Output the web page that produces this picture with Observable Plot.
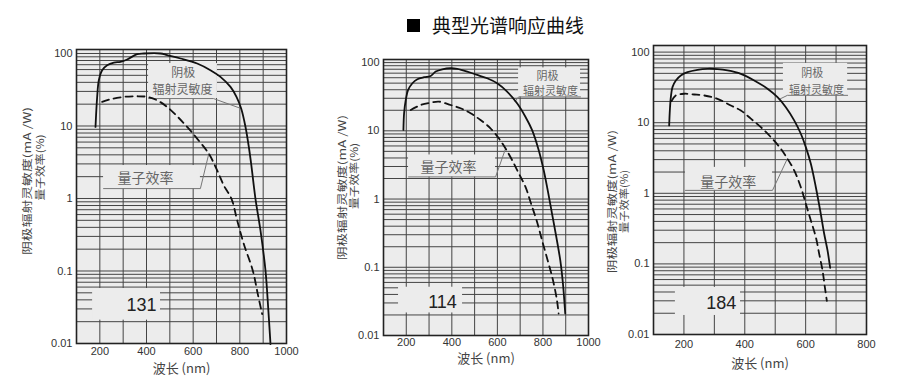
<!DOCTYPE html>
<html><head><meta charset="utf-8">
<script src="https://cdn.jsdelivr.net/npm/d3@7"></script>
<script src="https://cdn.jsdelivr.net/npm/@observablehq/plot@0.6"></script>
<style>
html,body{margin:0;padding:0;background:#fff;}
body{width:914px;height:383px;overflow:hidden;position:relative;font-family:"Liberation Sans",Arial,sans-serif;}
#title{position:absolute;left:407px;top:14px;font-family:"Noto Sans CJK SC";font-size:19px;line-height:22px;color:#111;display:flex;align-items:center;white-space:nowrap;}
#title .sq{display:inline-block;width:13px;height:13px;background:#000;margin-right:12px;}
.panel{position:absolute;top:40px;}
.panel svg{max-width:none;}
</style></head><body>
<div id="title"><span class="sq"></span><span>典型光谱响应曲线</span></div>
<div id="p1" class="panel" style="left:0px;width:300px"></div>
<div id="p2" class="panel" style="left:310px;width:290px"></div>
<div id="p3" class="panel" style="left:600px;width:314px"></div>
<script>
// ---------- data ----------
const yTickValues = [0.01, 0.1, 1, 10, 100];
const xTicks1 = [200, 400, 600, 800, 1000];
const xTicks3 = [200, 400, 600, 800];
const xLabel = "波长 (nm)";
const yLabelLines = ["阴极辐射灵敏度(mA /W)", "量子效率(%)"];
const sensLabel = ["阴极", "辐射灵敏度"];
const qeLabel = "量子效率";
const tubeNames = ["131", "114", "184"];

// Panel 131
const p1SensNm  = [181.4,188.6,195.7,210,231.4,260,288.6,317,360,388.6,460,488.6,545.7,617,674,717,760,785.7,805.7,824.3,838.6,848.6,867,888.6,910,921.4,931.4];
const p1SensVal = [9.7,25.2,42.8,58.9,69,75.1,76.7,82.6,98,100,100,94.8,85.3,72.8,58.9,47.6,34.6,25.2,17.4,9.7,5.13,3.0,0.99,0.36,0.101,0.0315,0.0098];
const p1QeNm  = [210,245.7,302.9,360,402.9,445.7,488.6,531.4,574.3,617,667,702.9,731.4,764.3,788.6,817,855.7,877,895.7];
const p1QeVal = [21.5,23.4,25.2,25.7,25.2,22.6,18.3,13.6,9.7,6.7,4.15,2.44,1.51,0.99,0.50,0.236,0.101,0.048,0.0255];

// Panel 114
const p2SensNm  = [187.5,190.4,197.7,208,226.9,248.8,278,307,329,358.2,394.7,423.8,467.6,511.4,555.1,598.9,642.6,686.4,722.9,752,781.2,803.1,820.6,839.6,858.5,876,887.7,897.9];
const p2SensVal = [10.3,18.1,28.3,39.7,49.8,57.1,61,63.6,73.8,79.8,82.6,80.7,73.8,65.9,58.9,49.8,37.6,25.3,16.1,10.3,5.24,2.66,1.36,0.617,0.28,0.127,0.058,0.021];
const p2QeNm  = [219.6,263.4,307.1,343.6,394.7,438.4,482.2,525.9,569.7,606.2,635.3,664.5,693.7,722.9,747.7,773.9,795.8,820.6,843.9,861.4,868.7];
const p2QeVal = [20.2,23.9,25.9,26.8,23.9,21.4,18.1,14.4,10.9,7.77,5.54,3.73,2.38,1.52,0.86,0.465,0.25,0.127,0.065,0.033,0.021];

// Panel 184
const p3SensNm  = [151.5,153.7,157,162.4,173.4,189.8,211.7,244.6,277.5,310.3,343.2,387,430.8,474.7,507.5,534.9,562.3,584.2,600.6,617.1,633.5,647.8,660.9,671.9,680.6];
const p3SensVal = [9.15,14.9,23,31.9,39.7,46.7,52.1,56.2,58,57.4,55,49.3,39.7,30.3,23,16.6,10.8,6.97,4.51,2.62,1.22,0.571,0.267,0.155,0.088];
const p3QeNm  = [159.2,173.4,200.8,233.7,266.5,310.3,354.2,387,419.9,452.8,485.6,518.5,540.4,562.3,584.2,600.6,617.1,633.5,644.5,655.4,663.1,669.7];
const p3QeVal = [20.2,24.3,25.7,25.1,24.3,21.8,17.5,14.9,11.4,8.65,6.25,4.27,3.08,2.11,1.22,0.71,0.412,0.239,0.139,0.081,0.047,0.030];

// annotation anchors in data units: [nm1, nm2, val1, val2]
const p1SensBox = [409, 704, 23.9, 72.8];
const p1QeBox   = [216, 631, 1.37, 2.85];
const p1NameBox = [169, 460, 0.021, 0.0574];
const p2SensBox = [693, 965, 31.4, 83.6];
const p2QeBox   = [210, 592, 2.11, 4.43];
const p2NameBox = [166, 447, 0.0214, 0.051];
const p3SensBox = [527, 738, 24.4, 69.2];
const p3QeBox   = [205, 491, 1.1, 2.33];
const p3NameBox = [172, 386, 0.0186, 0.0465];

// leader polylines (nm, value)
const p1SensLeader = [[409,23.9],[687,23.9],[805.7,17.4]];
const p1QeLeader   = [[216,1.37],[631,1.37],[667,4.15]];
const p2SensLeader = [[965,31.4],[693,31.4],[678,27]];
const p2QeLeader   = [[210,2.11],[592,2.11],[636,5.5]];
const p3SensLeader = [[738,24.4],[540,24.4],[514,21.5]];
const p3QeLeader   = [[205,1.1],[491,1.1],[540,3.1]];

// label anchors
const p1SensText = [[558,53],[554,30.9]];
const p1QeText = [396,1.89];
const p1NameText = [379,0.0334];
const p2SensText = [[820,61.7],[833,37.2]];
const p2QeText = [385,2.86];
const p2NameText = [359,0.031];
const p3SensText = [[622,49.9],[636,28.7]];
const p3QeText = [346,1.43];
const p3NameText = [323,0.0276];

// ---------- drawing ----------
const BG = "#ececec";
const GRID = "#444";
const CJK = "Noto Sans CJK SC";

function minorY() {
  const v = [];
  for (let e = -2; e <= 1; e++) for (let m = 1; m <= 9; m++) v.push(+(m * Math.pow(10, e)).toPrecision(3));
  v.push(100);
  return v;
}

function drawPanel(el, c) {
  const pts = (xs, ys) => xs.map((x, i) => ({x, y: ys[i]}));
  const boxes = [c.sensBox, c.qeBox, c.nameBox].map(b => ({x1: b[0], x2: b[1], y1: b[2], y2: b[3]}));
  const leaders = [];
  c.sensLeader.forEach(p => leaders.push({x: p[0], y: p[1], z: "a"}));
  c.qeLeader.forEach(p => leaders.push({x: p[0], y: p[1], z: "b"}));
  const gridX = d3.range(c.xDomain[0] + 100, c.xDomain[1], 100);
  const svg = Plot.plot({
    width: c.width, height: 343,
    marginLeft: c.ml, marginRight: c.mr, marginTop: c.mt, marginBottom: c.mb,
    x: {domain: c.xDomain, ticks: c.xTicks, tickSize: 0, tickPadding: c.xPad, tickFormat: d => String(d), label: null},
    y: {type: "log", domain: c.yDomain, ticks: yTickValues, tickSize: 0, tickPadding: 4, tickFormat: d => String(d), label: null},
    style: {fontFamily: "Liberation Sans, Arial, sans-serif", fontSize: "11px", color: "#333", background: "transparent", overflow: "visible"},
    marks: [
      Plot.frame({fill: BG}),
      Plot.ruleY(minorY(), {stroke: GRID, strokeWidth: 1}),
      Plot.ruleX(gridX, {stroke: GRID, strokeWidth: 1}),
      Plot.rect(boxes, {x1: "x1", x2: "x2", y1: "y1", y2: "y2", fill: BG}),
      Plot.line(leaders, {x: "x", y: "y", z: "z", stroke: "#777", strokeWidth: 1}),
      Plot.text([0, 1], {x: i => c.sensText[i][0], y: i => c.sensText[i][1], text: i => sensLabel[i], fontFamily: CJK, fontSize: c.sensFont, fill: "#666"}),
      Plot.text([0], {x: () => c.qeText[0], y: () => c.qeText[1], text: () => qeLabel, fontFamily: CJK, fontSize: 14, fill: "#666"}),
      Plot.text([0], {x: () => c.nameText[0], y: () => c.nameText[1], text: () => c.name, fontSize: 18, fill: "#222"}),
      Plot.line(pts(c.sensNm, c.sensVal), {x: "x", y: "y", curve: "catmull-rom", stroke: "#111", strokeWidth: 1.8}),
      Plot.line(pts(c.qeNm, c.qeVal), {x: "x", y: "y", curve: "catmull-rom", stroke: "#111", strokeWidth: 1.8, strokeDasharray: "7,5"}),
      Plot.frame({stroke: "#222", strokeWidth: 1.6}),
      Plot.text([xLabel], {frameAnchor: "bottom", dy: c.xLabDy, fontFamily: CJK, fontSize: 13, fill: "#444"})
    ]
  });
  // rotated two-line y-axis title (condensed like the reference)
  const g = d3.select(svg).append("g").attr("fill", "#444").attr("font-family", CJK);
  yLabelLines.forEach((t, i) => {
    const [x, y, len] = c.yLab[i];
    g.append("text")
      .attr("transform", `translate(${x},${y}) rotate(-90)`)
      .attr("font-size", i === 0 ? 10.5 : 10)
      .attr("text-anchor", "middle")
      .attr("dominant-baseline", "central")
      .attr("textLength", len)
      .attr("lengthAdjust", "spacingAndGlyphs")
      .text(t);
  });
  el.appendChild(svg);
}

drawPanel(document.getElementById("p1"), {
  width: 300, ml: 76, mr: 14, mt: 9, mb: 40, xDomain: [100, 1000], yDomain: [0.01, 113.5], xTicks: xTicks1, xPad: 4,
  sensNm: p1SensNm, sensVal: p1SensVal, qeNm: p1QeNm, qeVal: p1QeVal,
  sensBox: p1SensBox, qeBox: p1QeBox, nameBox: p1NameBox, sensLeader: p1SensLeader, qeLeader: p1QeLeader,
  sensText: p1SensText, qeText: p1QeText, nameText: p1NameText, sensFont: 12, name: tubeNames[0],
  yLab: [[26, 141, 148], [39, 127.5, 66]], xLabDy: 29
});
drawPanel(document.getElementById("p2"), {
  width: 290, ml: 73, mr: 12, mt: 19, mb: 48, xDomain: [100, 1000], yDomain: [0.01, 111], xTicks: xTicks1, xPad: 3,
  sensNm: p2SensNm, sensVal: p2SensVal, qeNm: p2QeNm, qeVal: p2QeVal,
  sensBox: p2SensBox, qeBox: p2QeBox, nameBox: p2NameBox, sensLeader: p2SensLeader, qeLeader: p2QeLeader,
  sensText: p2SensText, qeText: p2QeText, nameText: p2NameText, sensFont: 11, name: tubeNames[1],
  yLab: [[31.7, 147.5, 145], [43.3, 136, 66]], xLabDy: 27
});
drawPanel(document.getElementById("p3"), {
  width: 314, ml: 53, mr: 48, mt: 5, mb: 49, xDomain: [100, 800], yDomain: [0.01, 124], xTicks: xTicks3, xPad: 6,
  sensNm: p3SensNm, sensVal: p3SensVal, qeNm: p3QeNm, qeVal: p3QeVal,
  sensBox: p3SensBox, qeBox: p3QeBox, nameBox: p3NameBox, sensLeader: p3SensLeader, qeLeader: p3QeLeader,
  sensText: p3SensText, qeText: p3QeText, nameText: p3NameText, sensFont: 11, name: tubeNames[2],
  yLab: [[11.7, 161.5, 143], [23.3, 161.5, 63]], xLabDy: 33
});
</script>
</body></html>
